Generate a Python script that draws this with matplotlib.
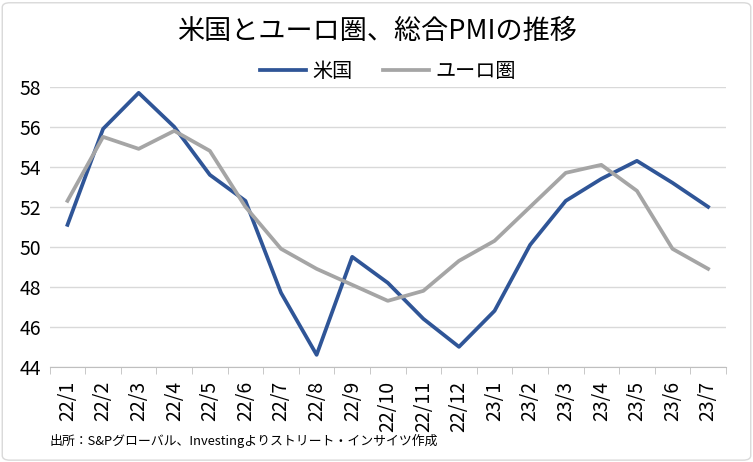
import matplotlib.pyplot as plt
from matplotlib.patches import FancyBboxPatch
import numpy as np

plt.rcParams['font.family'] = ['Noto Sans CJK JP', 'DejaVu Sans']

months = ['22/1', '22/2', '22/3', '22/4', '22/5', '22/6', '22/7', '22/8', '22/9', '22/10',
          '22/11', '22/12', '23/1', '23/2', '23/3', '23/4', '23/5', '23/6', '23/7']
us = [51.1, 55.9, 57.7, 56.0, 53.6, 52.3, 47.7, 44.6, 49.5, 48.2,
      46.4, 45.0, 46.8, 50.1, 52.3, 53.4, 54.3, 53.2, 52.0]
euro = [52.3, 55.5, 54.9, 55.8, 54.8, 52.0, 49.9, 48.9, 48.1, 47.3,
        47.8, 49.3, 50.3, 52.0, 53.7, 54.1, 52.8, 49.9, 48.9]

fig = plt.figure(figsize=(7.53, 4.62), dpi=100)
ax = fig.add_axes([0.066, 0.206, 0.898, 0.606])

x = np.arange(len(months))
ax.plot(x, us, color='#2F5597', linewidth=2.7, label='米国', solid_joinstyle='round')
ax.plot(x, euro, color='#A5A5A5', linewidth=2.7, label='ユーロ圏', solid_joinstyle='round')

ax.set_xlim(-0.5, len(months) - 0.5)
ax.set_ylim(44, 58)
ax.set_yticks(range(44, 59, 2))
ax.set_xticks(x)
ax.set_xticklabels(months, rotation=90, fontsize=14)
ax.set_xticks(np.arange(-0.5, len(months), 1), minor=True)
ax.tick_params(axis='x', which='major', length=0, pad=10)
ax.tick_params(axis='x', which='minor', length=5, color='#BFBFBF')
ax.tick_params(axis='y', length=0, labelsize=14, pad=6)
ax.grid(axis='y', color='#D9D9D9', linewidth=1)
ax.set_axisbelow(True)
for s in ['top', 'right', 'left']:
    ax.spines[s].set_visible(False)
ax.spines['bottom'].set_color('#BFBFBF')

fig.text(0.5, 0.932, '米国とユーロ圏、総合PMIの推移', ha='center', va='center', fontsize=19.5)
ax.legend(loc='center', bbox_to_anchor=(0.5, 1.055), ncol=2, frameon=False,
          fontsize=14.5, handlelength=2.3, columnspacing=1.5, handletextpad=0.3)
fig.text(0.066, 0.045, '出所：S&Pグローバル、Investingよりストリート・インサイツ作成',
         ha='left', va='center', fontsize=9.3)

border = FancyBboxPatch((0.003, 0.004), 0.994, 0.99, boxstyle='round,pad=0,rounding_size=0.01',
                        transform=fig.transFigure, fill=False, edgecolor='#D9D9D9', linewidth=1)
fig.patches.append(border)

fig.savefig('out.png', dpi=100)
